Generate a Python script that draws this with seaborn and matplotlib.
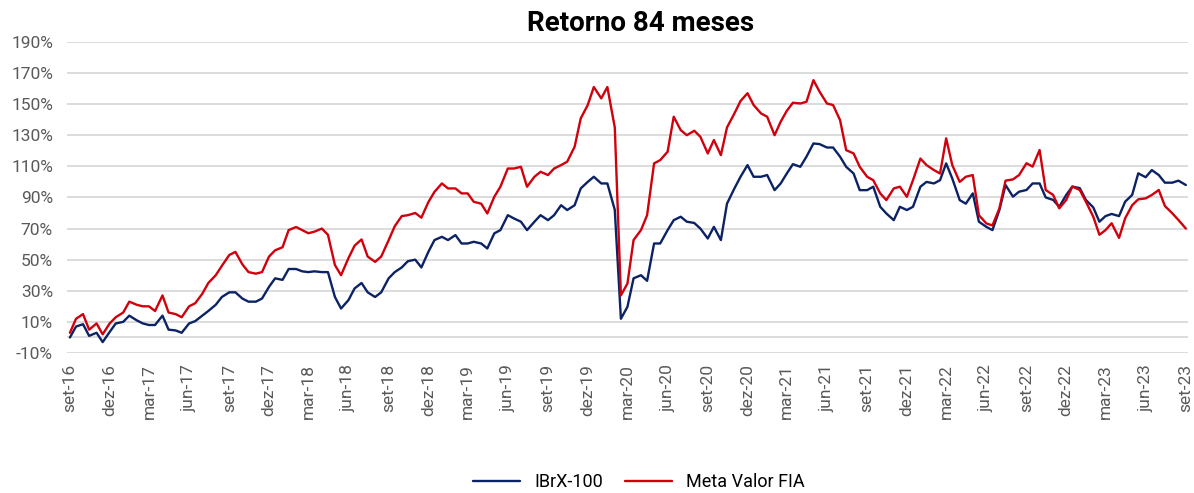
import numpy as np
import pandas as pd
import matplotlib
matplotlib.use("Agg")
import matplotlib.pyplot as plt
import seaborn as sns

# semi-monthly readings, 1st and 15th of each month, set-16 .. set-23 (%)
ibrx = [
    0, 7, 8.5, 1, 3, -3, 3.5, 9, 10, 14, 11, 9, 8, 8, 14, 5, 4.5, 3, 9, 10.5,
    14, 17, 21, 26, 29, 29, 25, 23, 23, 25, 32.5, 38, 37, 44, 44, 42.5, 42, 42.5, 42, 42,
    26, 18.6, 24, 31.5, 35, 29, 26, 29, 38, 42, 45, 49, 50, 45, 55, 62.6, 64.7, 62.6, 65.8, 60.4,
    60.4, 61.5, 60.4, 57.2, 66.9, 69, 78.6, 76.5, 74.4, 69, 74.4, 78.6, 75.4, 78.6, 85, 81.9, 85, 95.8, 100, 103.3,
    99, 99, 82, 12, 19.7, 38, 40, 36.4, 60.4, 60.4, 69, 75.4, 77.6, 74.4, 73.6, 70, 63.6, 71.1, 62.6, 86,
    95.8, 103.3, 110.8, 103.3, 103.3, 104.4, 94.7, 99, 105.4, 111.4, 109.7, 116.2, 124.7, 124.3, 122.1, 122.1, 116.2, 109.7, 105.4, 94.7,
    94.7, 96.9, 84, 79.7, 75.4, 84, 81.9, 84, 96.9, 100, 99, 101.1, 111.9, 102.2, 88.3, 86, 92.6, 74.4, 71.1, 69,
    82, 98, 90.5, 93.7, 94.8, 99, 99, 90, 88.4, 84, 91.6, 97, 96, 88.4, 83.6, 74.4, 78, 79.4, 78, 87.3,
    91.6, 105.5, 103, 107.6, 104.4, 99.5, 99.5, 100.8, 98,
]
meta_valor = [
    3, 12, 15, 5, 9, 2, 9, 13, 16, 23, 21, 20, 20, 17, 27, 16, 15, 13, 20, 22,
    28, 35, 40, 46, 53, 55, 47, 42, 41, 42, 52, 56, 58, 69, 71, 69, 67, 68, 70, 66,
    46.5, 40, 51, 59, 63, 52, 48.6, 52, 62.5, 71.5, 78, 78.6, 80, 77, 87, 93.6, 99, 95.8, 95.8, 92.6,
    92.6, 87.2, 86, 79.7, 90.4, 96.9, 108.6, 108.6, 109.7, 96.9, 103.3, 106.5, 104.4, 108.6, 110.8, 113, 122.6, 140.8, 149.4, 161,
    153.7, 161, 135, 27, 34.7, 62.6, 69, 78.6, 111.9, 114, 119.4, 141.9, 133.3, 130, 132.9, 129, 118.3, 126.9, 117.2, 135,
    144, 152, 157, 149.4, 144, 141.9, 130, 138.7, 145.7, 150.9, 150.4, 151.5, 165.4, 158, 150.4, 149.4, 139.7, 120.4, 118.3, 109.7,
    103.3, 101.1, 92.6, 88.3, 95.8, 96.9, 90.4, 101.1, 115, 110.8, 107.6, 105.4, 128, 110.8, 100, 103.3, 104.4, 78.6, 73.3, 72,
    83, 100.8, 101.6, 104.4, 112, 109.8, 120.5, 94.8, 91.6, 83, 88.4, 97, 94.8, 87.3, 77.6, 66, 69, 73.4, 64, 76.6,
    85, 88.8, 89.4, 91.6, 94.8, 84.5, 79.8, 75.5, 70,
]
series_names = ["IBrX-100", "Meta Valor FIA"]
colors = ["#0b2265", "#d0000d"]
month_abbr = ["jan", "fev", "mar", "abr", "mai", "jun",
              "jul", "ago", "set", "out", "nov", "dez"]

dates = pd.date_range("2016-09-01", periods=len(ibrx), freq="SMS")
df = pd.DataFrame({"data": dates, series_names[0]: ibrx, series_names[1]: meta_valor})
long_df = df.melt(id_vars="data", var_name="serie", value_name="retorno")

sns.set_style("white")
plt.rcParams["font.family"] = ["Roboto", "DejaVu Sans"]

fig, ax = plt.subplots(figsize=(11.94, 4.93), dpi=100)
fig.subplots_adjust(left=0.056, right=0.995, top=0.915, bottom=0.284)

sns.lineplot(data=long_df, x="data", y="retorno", hue="serie",
             palette=colors, linewidth=1.7, ax=ax, legend=False)

# axes and grid
ax.set_ylim(-10, 190)
ax.set_yticks(np.arange(-10, 191, 20))
ax.set_yticklabels([f"{v}%" for v in range(-10, 191, 20)])
ax.yaxis.grid(True, color="#d9d9d9", linewidth=1.3)
ax.axhline(0, color="#d9d9d9", linewidth=1.3, zorder=0)
ax.set_axisbelow(True)
for s in ax.spines.values():
    s.set_visible(False)

ticks = pd.date_range("2016-09-01", "2023-09-01", freq="3MS")
ax.set_xticks(ticks)
ax.set_xticklabels([f"{month_abbr[t.month - 1]}-{t.strftime('%y')}" for t in ticks],
                   rotation=90)
ax.set_xlim(pd.Timestamp("2016-08-25"), pd.Timestamp("2023-09-06"))
ax.tick_params(axis="both", length=0, labelsize=12.5, colors="#595959")
ax.tick_params(axis="y", pad=10)
ax.tick_params(axis="x", pad=8)
ax.set_xlabel("")
ax.set_ylabel("")

ax.set_title("Retorno 84 meses", fontsize=20, fontweight="bold", pad=8, x=0.512,
             color="black")

handles = [plt.Line2D([], [], color=c, linewidth=1.7) for c in colors]
leg = fig.legend(handles, series_names, loc="center", bbox_to_anchor=(0.535, 0.022),
                 ncol=2, frameon=False, fontsize=13, handlelength=2.6, columnspacing=1.2)
for t in leg.get_texts():
    t.set_color("black")

fig.savefig("out.png", dpi=100)
